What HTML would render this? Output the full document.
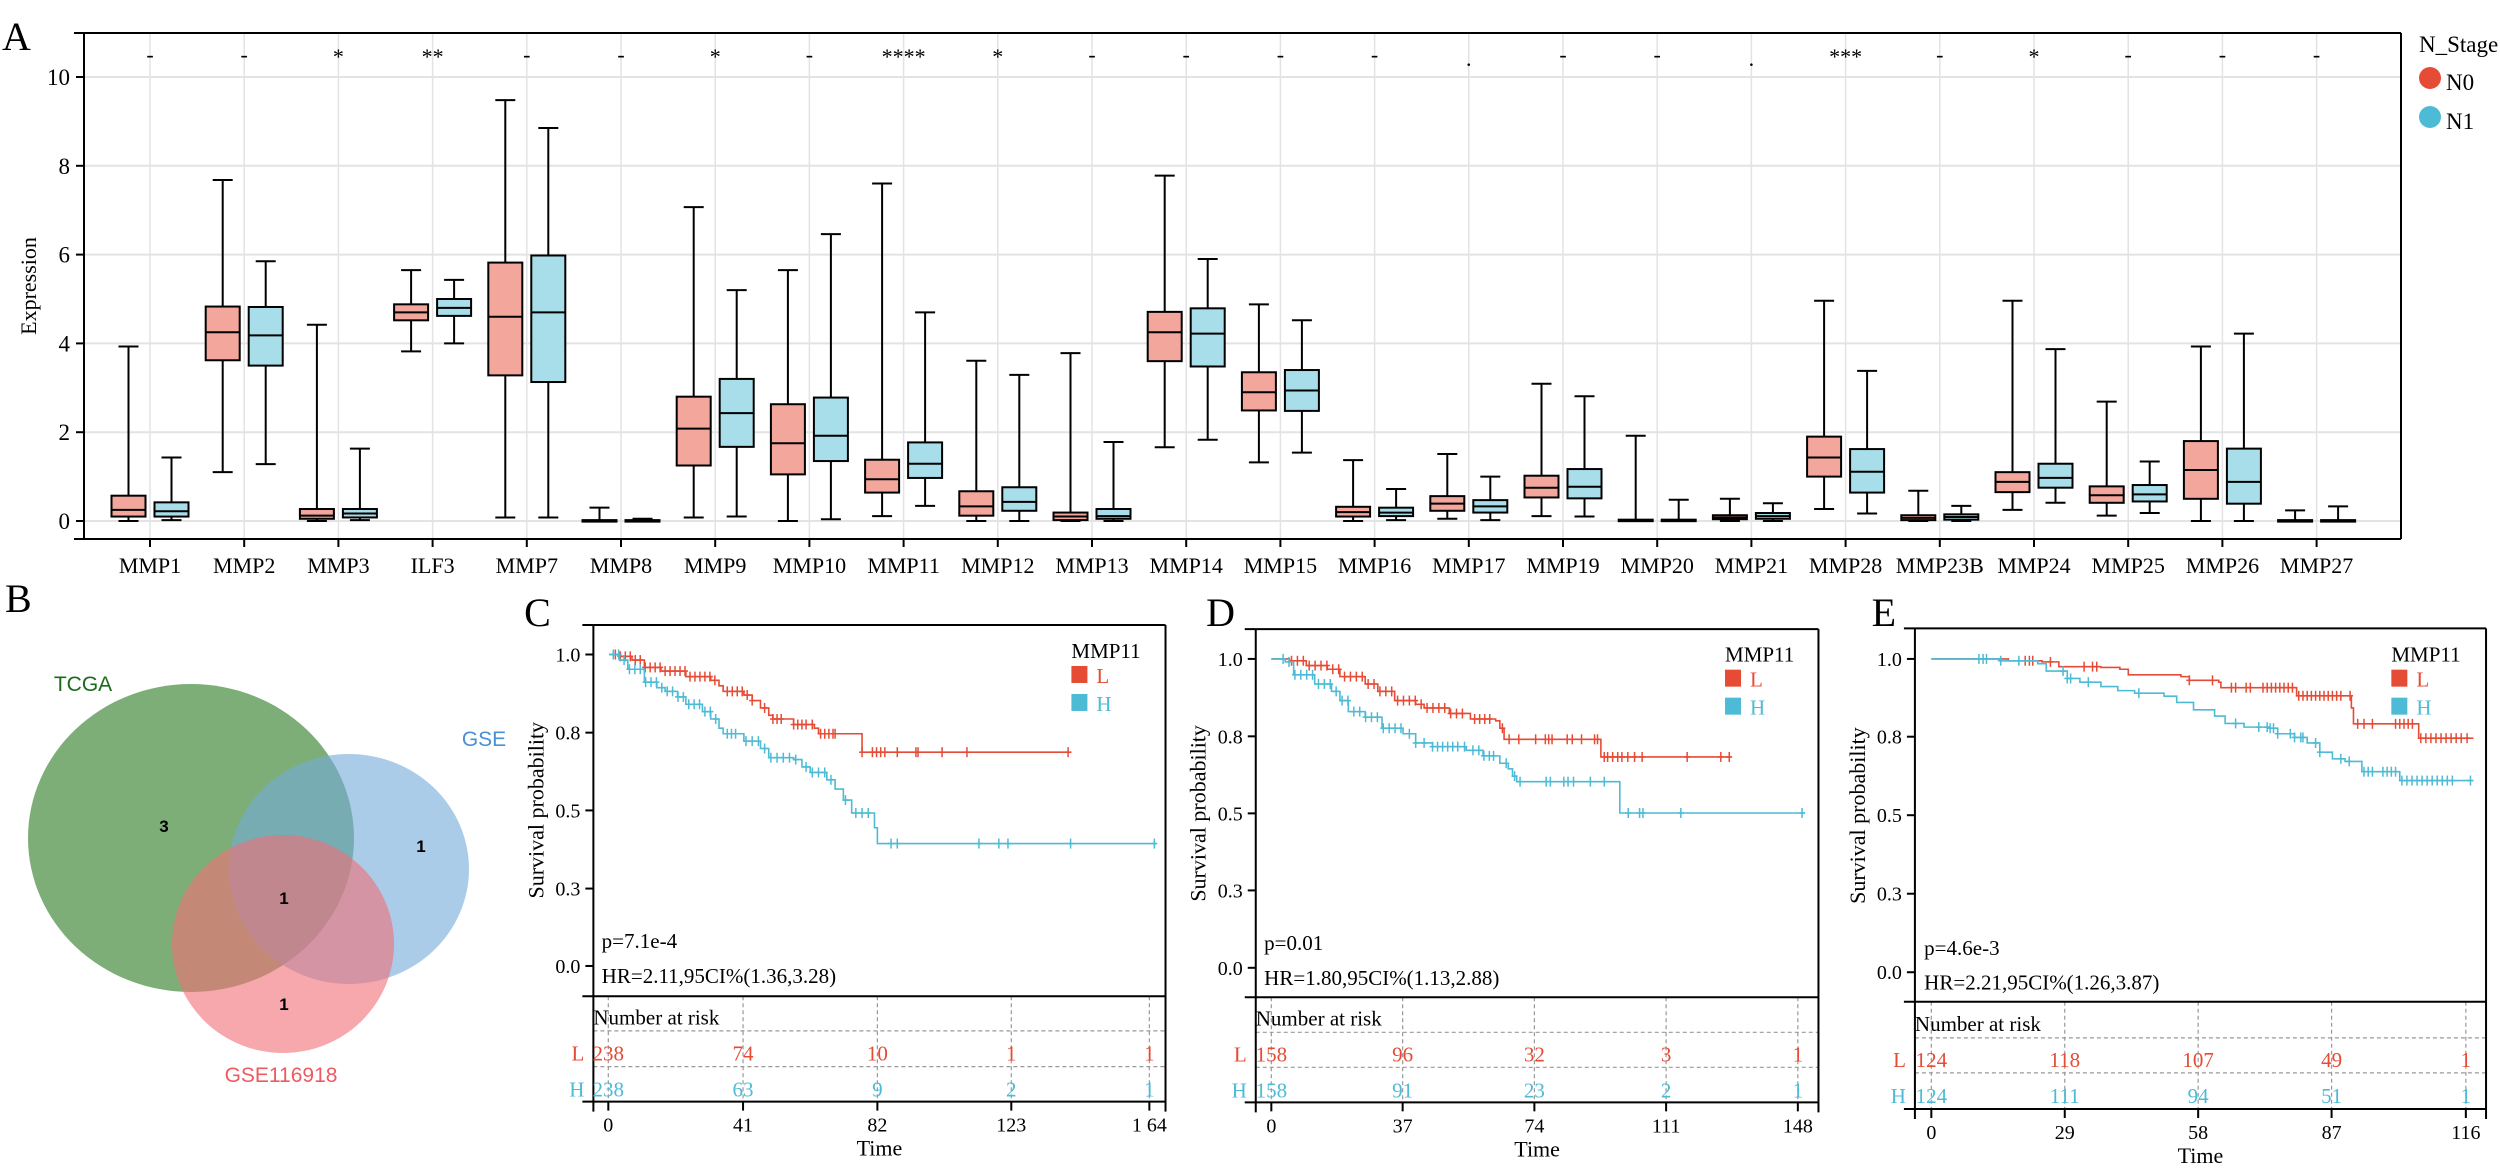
<!DOCTYPE html>
<html><head><meta charset="utf-8">
<style>
html,body{margin:0;padding:0;background:#fff;}
svg{display:block;}
text{font-family:"Liberation Serif",serif;}
.s{font-family:"Liberation Sans",Arial,sans-serif;}
</style></head>
<body>
<svg id="fig" width="2500" height="1168" viewBox="0 0 2500 1168" xmlns="http://www.w3.org/2000/svg"></svg>
<script>
var o=[];
function L(x1,y1,x2,y2,c,w,extra){o.push('<line x1="'+x1+'" y1="'+y1+'" x2="'+x2+'" y2="'+y2+'" stroke="'+(c||'#000')+'" stroke-width="'+(w||1.5)+'" '+(extra||'')+'/>');}
function T(x,y,s,size,anchor,fill,extra){o.push('<text x="'+x+'" y="'+y+'" font-size="'+size+'" text-anchor="'+(anchor||'start')+'" fill="'+(fill||'#000')+'" '+(extra||'')+'>'+s+'</text>');}
function R(x,y,w,h,f,st,sw){o.push('<rect x="'+x+'" y="'+y+'" width="'+w+'" height="'+h+'" fill="'+f+'" stroke="'+(st||'none')+'" stroke-width="'+(sw||0)+'"/>');}

/* ===== Panel A ===== */
T(2,50,'A',40);
var Y=function(v){return 521-44.4*v;};
var cats=['MMP1','MMP2','MMP3','ILF3','MMP7','MMP8','MMP9','MMP10','MMP11','MMP12','MMP13','MMP14','MMP15','MMP16','MMP17','MMP19','MMP20','MMP21','MMP28','MMP23B','MMP24','MMP25','MMP26','MMP27'];
var sig=['-','-','*','**','-','-','*','-','****','*','-','-','-','-','.','-','-','.','***','-','*','-','-','-'];
var d0=[[0.1,0.25,0.57,0,3.93],[3.62,4.25,4.83,1.1,7.68],[0.05,0.12,0.27,0,4.42],[4.52,4.7,4.88,3.82,5.65],[3.28,4.6,5.82,0.08,9.48],[0,0.01,0.02,0,0.3],[1.25,2.08,2.8,0.08,7.07],[1.05,1.75,2.63,0,5.65],[0.64,0.94,1.38,0.11,7.6],[0.12,0.33,0.67,0,3.61],[0.02,0.1,0.19,0,3.78],[3.6,4.25,4.71,1.66,7.78],[2.49,2.9,3.35,1.32,4.88],[0.1,0.2,0.32,0,1.37],[0.23,0.39,0.56,0.05,1.51],[0.53,0.75,1.02,0.11,3.09],[0,0.01,0.03,0,1.92],[0.04,0.08,0.13,0,0.5],[1.0,1.43,1.9,0.27,4.96],[0.02,0.07,0.13,0,0.68],[0.65,0.88,1.1,0.25,4.96],[0.41,0.58,0.78,0.12,2.69],[0.5,1.15,1.8,0,3.93],[0,0.01,0.02,0,0.24]];
var d1=[[0.1,0.22,0.42,0.02,1.43],[3.5,4.18,4.82,1.28,5.85],[0.08,0.17,0.27,0.02,1.63],[4.62,4.8,5.0,4.0,5.43],[3.13,4.7,5.98,0.08,8.85],[0,0.01,0.02,0,0.05],[1.67,2.43,3.2,0.1,5.2],[1.35,1.92,2.78,0.04,6.46],[0.97,1.29,1.77,0.34,4.7],[0.23,0.43,0.76,0,3.29],[0.05,0.11,0.27,0,1.78],[3.48,4.22,4.79,1.83,5.9],[2.48,2.94,3.4,1.54,4.52],[0.11,0.19,0.3,0.02,0.72],[0.19,0.33,0.47,0.02,1.0],[0.51,0.77,1.17,0.1,2.81],[0,0.01,0.03,0,0.48],[0.05,0.11,0.18,0,0.4],[0.64,1.11,1.62,0.17,3.38],[0.03,0.09,0.15,0,0.34],[0.75,0.97,1.29,0.41,3.87],[0.44,0.6,0.81,0.18,1.34],[0.39,0.88,1.63,0,4.22],[0,0.01,0.02,0,0.33]];
for(var v=0;v<=10;v+=2){L(84,Y(v),2401,Y(v),'#e3e3e3',2);}
for(var i=0;i<24;i++){var cx=150+94.2*i;L(cx,33,cx,539,'#e3e3e3',1.5);}
L(74,33,2401,33,'#000',2);L(74,539,2401,539,'#000',2);L(84,33,84,539,'#000',2);L(2401,33,2401,539,'#000',2);
for(var v=0;v<=10;v+=2){L(76,Y(v),84,Y(v),'#000',2);T(70,Y(v)+8,v,23,'end');}
T(36,286,'Expression',22,'middle','#000','transform="rotate(-90 36 286)"');
function box(cx,d,fill){
  var hw=17,cw=10;
  L(cx,Y(d[4]),cx,Y(d[2]),'#000',2);L(cx,Y(d[0]),cx,Y(d[3]),'#000',2);
  L(cx-cw,Y(d[4]),cx+cw,Y(d[4]),'#000',2);L(cx-cw,Y(d[3]),cx+cw,Y(d[3]),'#000',2);
  var h=Math.max(Y(d[0])-Y(d[2]),1.5);
  R(cx-hw,Y(d[2]),2*hw,h,fill,'#000',2);
  L(cx-hw,Y(d[1]),cx+hw,Y(d[1]),'#000',2);
}
for(var i=0;i<24;i++){
  var cx=150+94.2*i;
  box(cx-21.5,d0[i],'#F2A69C');box(cx+21.5,d1[i],'#A8DEEA');
  L(cx,539,cx,547,'#000',2);
  T(cx,573,cats[i],22,'middle');
  var s=sig[i];
  if(s=='-')T(cx,62,'-',22,'middle');
  else if(s=='.')T(cx,66,'.',22,'middle');
  else T(cx,64,s,22,'middle');
}
T(2419,52,'N_Stage',23);
o.push('<circle cx="2430" cy="78" r="11" fill="#E64B35"/>');T(2446,90,'N0',23);
o.push('<circle cx="2430" cy="117" r="11" fill="#4DBBD5"/>');T(2446,129,'N1',23);

/* ===== Panel B ===== */
T(5,612,'B',40);
o.push('<ellipse cx="191" cy="838" rx="163" ry="154" fill="rgb(40,120,30)" fill-opacity="0.6"/>');
o.push('<ellipse cx="349" cy="869" rx="120" ry="115" fill="rgb(115,170,218)" fill-opacity="0.6"/>');
o.push('<ellipse cx="283" cy="944" rx="111" ry="109" fill="rgb(242,110,117)" fill-opacity="0.6"/>');
T(83,691,'TCGA',21,'middle','#1a6b1a','class="s"');
T(484,746,'GSE',21,'middle','#4a8fd6','class="s"');
T(281,1082,'GSE116918',21,'middle','#ee5a60','class="s"');
T(164,832,'3',17,'middle','#000','class="s" font-weight="bold"');
T(421,852,'1',17,'middle','#000','class="s" font-weight="bold"');
T(284,904,'1',17,'middle','#000','class="s" font-weight="bold"');
T(284,1010,'1',17,'middle','#000','class="s" font-weight="bold"');

/* ===== KM panels ===== */
var RED='#E64B35',BLU='#4DBBD5';
function km(P){
  var sy=2.713;
  function X(px){return P.ox+px/P.sx;}
  function YY(py){return 590+py/sy;}
  T(X(P.letx),YY(60)+14,P.letter,40);
  var l=X(P.left),r=X(P.right),t=YY(P.top),mb=YY(P.mb),tb=YY(P.tb);
  var lo=l-11;
  P.xt.forEach(function(px){L(X(px),mb,X(px),tb,'#999',1.2,'stroke-dasharray="4,3"');});
  L(l,YY(P.d1),r,YY(P.d1),'#999',1.2,'stroke-dasharray="4,3"');
  L(l,YY(P.d2),r,YY(P.d2),'#999',1.2,'stroke-dasharray="4,3"');
  L(lo,t,r,t,'#000',2);L(lo,mb,r,mb,'#000',2);L(lo,tb,r,tb,'#000',2);
  L(l,t,l,tb+10,'#000',2);L(r,t,r,tb+10,'#000',2);
  var yl=['1.0','0.8','0.5','0.3','0.0'];
  P.yt.forEach(function(py,k){L(l-8,YY(py),l,YY(py),'#000',2);T(l-13,YY(py)+7,yl[k],20,'end');});
  T(l-50,(YY(P.yt[0])+YY(P.yt[4]))/2,'Survival probability',22,'middle','#000','transform="rotate(-90 '+(l-50)+' '+((YY(P.yt[0])+YY(P.yt[4]))/2)+')"');
  P.xt.forEach(function(px,k){L(X(px),tb,X(px),tb+9,'#000',2);T(X(px),tb+30,P.xl[k],20,'middle');});
  T((l+r)/2,tb+54,'Time',22,'middle');
  T(l,YY(P.nar)+7,'Number at risk',21);
  T(l-9,YY(P.rL)+8,'L',21,'end',RED);T(l-9,YY(P.rH)+8,'H',21,'end',BLU);
  P.xt.forEach(function(px,k){T(X(px),YY(P.rL)+8,P.nl[k],21,'middle',RED);T(X(px),YY(P.rH)+8,P.nh[k],21,'middle',BLU);});
  T(X(P.lg[0]),YY(P.lg[1])+9,'MMP11',21);
  R(X(P.lg[0]),YY(P.lg[1])+17,16,17,RED);T(X(P.lg[0])+25,YY(P.lg[1])+34,'L',21,'start',RED);
  R(X(P.lg[0]),YY(P.lg[1])+45,16,17,BLU);T(X(P.lg[0])+25,YY(P.lg[1])+62,'H',21,'start',BLU);
  T(X(P.pt[0]),YY(P.pt[1])+8,P.p,21);T(X(P.pt[0]),YY(P.ht[1])+8,P.hr,21);
  function curve(pts,col,cens){
    var dd='M'+X(pts[0][0])+','+YY(pts[0][1]);
    for(var k=1;k<pts.length;k++){dd+=' H'+X(pts[k][0])+' V'+YY(pts[k][1]);}
    o.push('<path d="'+dd+'" fill="none" stroke="'+col+'" stroke-width="1.6"/>');
    function yat(px){var y=pts[0][1];for(var k=1;k<pts.length;k++){if(pts[k][0]<=px)y=pts[k][1];}return y;}
    cens.forEach(function(px){var yy=YY(yat(px));L(X(px),yy-5,X(px),yy+5,col,1.5);L(X(px)-3,yy,X(px)+3,yy,col,1.5);});
  }
  curve(P.L,RED,P.cL);curve(P.H,BLU,P.cH);
}
function rng(a,b,s){var r=[];for(var x=a;x<=b;x+=s)r.push(x);return r;}
km({ox:520,sx:2.412,letter:'C',letx:10,left:177,right:1557,top:95,mb:1102,tb:1388,
 yt:[175,387,598,810,1020],xt:[213,538,862,1185,1518],xl:['0','41','82','123','1 64'],
 d1:1196,d2:1293,nar:1160,rL:1255,rH:1352,nl:['238','74','10','1','1'],nh:['238','63','9','2','1'],
 lg:[1330,160],pt:[197,950],ht:[0,1045],p:'p=7.1e-4',hr:'HR=2.11,95CI%(1.36,3.28)',
 L:[[215,175],[240,180],[270,190],[300,210],[340,220],[400,235],[460,245],[480,260],[490,275],[540,285],[560,300],[580,320],[600,340],[610,350],[660,365],[710,375],[720,390],[825,390],[825,440],[1330,440]],
 H:[[215,175],[240,190],[260,215],[300,250],[330,265],[350,275],[380,290],[400,310],[440,330],[460,350],[480,375],[490,390],[540,410],[580,430],[600,455],[660,460],[680,480],[700,495],[740,515],[760,540],[780,570],[800,605],[840,605],[855,645],[862,688],[1535,688]],
 cL:rng(230,470,12).concat(rng(500,560,12)).concat([590,610,620,630,660,670,680,690,705,725,735,745,755,760,825,850,860,870,880,910,955,960,1018,1078,1322]),
 cH:rng(225,480,13).concat([500,510,520,545,560,575,590,605,620,635,650,665,690,705,720,735,750,785,810,825,840,895,910,1107,1155,1177,1328,1530])});
km({ox:1180,sx:2.376,letter:'D',letx:62,left:180,right:1517,top:106,mb:1105,tb:1390,
 yt:[187,397,606,815,1025],xt:[217,529,842,1155,1468],xl:['0','37','74','111','148'],
 d1:1200,d2:1295,nar:1163,rL:1258,rH:1355,nl:['158','96','32','3','1'],nh:['158','91','23','2','1'],
 lg:[1295,170],pt:[200,955],ht:[0,1050],p:'p=0.01',hr:'HR=1.80,95CI%(1.13,2.88)',
 L:[[217,187],[260,192],[300,205],[350,215],[380,235],[440,255],[470,275],[510,300],[560,310],[580,320],[640,335],[690,350],[750,355],[760,375],[770,405],[1000,405],[1000,453],[1310,453]],
 H:[[217,187],[250,195],[270,230],[320,255],[360,275],[380,300],[400,330],[440,345],[480,375],[530,390],[560,415],[600,425],[680,435],[720,450],[760,470],[780,485],[790,505],[800,520],[1005,520],[1045,605],[1485,605]],
 cL:rng(265,680,14).concat([700,712,724,736,766,782,805,845,868,876,884,920,932,954,985,992,1008,1016,1028,1040,1050,1064,1080,1098,1205,1285,1305]),
 cH:rng(245,530,14).concat([545,560,580,600,612,624,636,648,660,676,696,710,722,735,745,775,795,808,870,880,912,922,935,975,1008,1065,1092,1100,1190,1478])});
km({ox:1840,sx:2.376,letter:'E',letx:75,left:178,right:1535,top:104,mb:1117,tb:1408,
 yt:[187,398,611,824,1037],xt:[217,534,851,1168,1487],xl:['0','29','58','87','116'],
 d1:1215,d2:1310,nar:1178,rL:1273,rH:1370,nl:['124','118','107','49','1'],nh:['124','111','94','51','1'],
 lg:[1310,170],pt:[200,968],ht:[0,1062],p:'p=4.6e-3',hr:'HR=2.21,95CI%(1.26,3.87)',
 L:[[217,187],[400,192],[480,195],[520,208],[620,210],[665,215],[685,230],[810,235],[830,245],[900,250],[905,265],[1070,265],[1085,287],[1205,287],[1215,320],[1220,363],[1365,363],[1375,402],[1505,402]],
 H:[[217,187],[380,192],[470,200],[490,220],[540,240],[570,250],[620,262],[660,273],[700,280],[770,288],[800,305],[840,325],[890,342],[915,362],[960,372],[1020,375],[1040,390],[1080,400],[1110,415],[1140,440],[1170,458],[1200,465],[1240,493],[1320,493],[1330,517],[1505,517]],
 cL:[440,450,458,500,580,600,610,830,885,930,940,965,975,1005,1015,1025,1035,1045,1055,1065,1075,1090,1100,1110,1120,1130,1140,1150,1160,1170,1180,1190,1212,1230,1245,1265,1320,1330,1340,1350,1360,1380,1392,1404,1416,1428,1440,1452,1464,1476,1490],
 cH:[330,340,348,382,425,530,540,548,590,710,940,995,1015,1022,1030,1040,1070,1080,1095,1100,1130,1140,1190,1210,1245,1255,1265,1290,1300,1310,1320,1335,1347,1359,1371,1383,1395,1407,1419,1431,1443,1455,1498]});

document.getElementById('fig').innerHTML=o.join('');
</script>
</body></html>
